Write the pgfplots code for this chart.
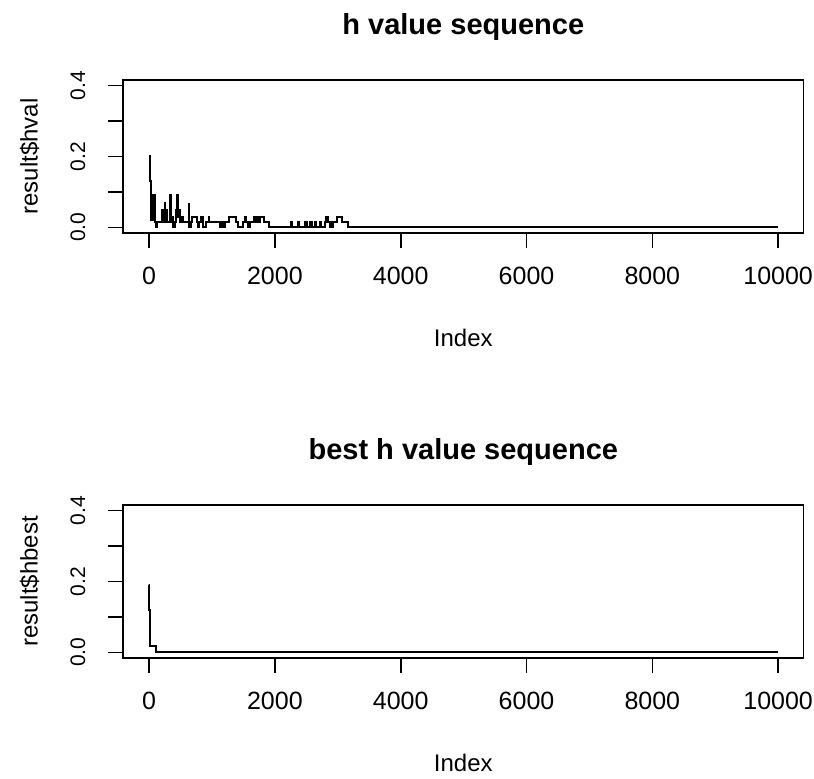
\documentclass[border=0pt]{standalone}
\usepackage{pgfplots}
\pgfplotsset{compat=1.18}
\usepackage{fontspec}
\setmainfont{Liberation Sans}
\begin{document}
\begin{tikzpicture}
\pgfplotsset{
  rplot/.style={
    scale only axis, width=340pt, height=76.5pt,
    xmin=-410, xmax=10400, ymin=-0.016, ymax=0.416,
    axis line style={line width=0.8pt},
    tick style={line width=0.8pt, black},
    tick align=outside, major tick length=7.5pt,
    xtick pos=bottom, ytick pos=left,
    xtick={0,2000,4000,6000,8000,10000},
    ytick={0,0.1,0.2,0.3,0.4},
    yticklabels={0.0,,0.2,,0.4},
    scaled x ticks=false,
    /pgf/number format/assume math mode=true,
    /pgf/number format/1000 sep={},
    xticklabel shift=6pt,
    yticklabel shift=8pt,
    xticklabel style={font=\fontsize{12.5}{14}\selectfont},
    yticklabel style={rotate=90, anchor=south, font=\fontsize{10.5}{12}\selectfont},
    title style={font=\bfseries\fontsize{14.5}{17}\selectfont,
      at={(axis description cs:0.5,1.222)}, anchor=base},
    xlabel style={font=\fontsize{12}{14}\selectfont,
      at={(axis description cs:0.5,-0.745)}, anchor=base},
    ylabel style={font=\fontsize{12}{14}\selectfont,
      at={(axis description cs:-0.138,0.5)}, anchor=center},
    xlabel={Index},
  }
}
\useasboundingbox (-61.65pt,40pt) rectangle (345.35pt,-349.5pt);

% h value sequence
\begin{axis}[rplot, at={(0,0)}, anchor=north west,
  title={h value sequence}, ylabel={result\$hval}]
\addplot[const plot, line width=1pt, black] coordinates {
(0,0.20) (8,0.19) (16,0.13) (24,0.095) (28,0.02) (32,0.09) (36,0.02)
(40,0.09) (44,0.03) (48,0.09) (52,0.02) (56,0.08) (60,0.02) (64,0.09)
(68,0.02) (72,0.06) (76,0.02) (80,0.09) (84,0.03) (88,0.07) (92,0.02)
(96,0.09) (100,0.016) (110,0.0) (130,0.016)
(210,0.05) (220,0.016) (250,0.07) (260,0.016) (270,0.05) (280,0.016)
(330,0.09) (345,0.016) (360,0.03) (380,0.0) (410,0.016) (420,0.05)
(428,0.03) (436,0.05) (444,0.03) (450,0.09) (460,0.05) (468,0.03)
(476,0.05) (484,0.03) (490,0.016) (520,0.03)
(540,0.016) (630,0.065) (640,0.0) (670,0.016) (690,0.03) (760,0.016)
(780,0.0) (800,0.016) (830,0.03) (850,0.0) (900,0.016) (950,0.03)
(960,0.016) (1120,0.0) (1150,0.016) (1170,0.0) (1200,0.016) (1270,0.03)
(1380,0.016) (1420,0.0) (1490,0.016) (1530,0.03) (1545,0.016) (1570,0.0)
(1600,0.016) (1660,0.03) (1700,0.016) (1720,0.03) (1750,0.016) (1770,0.03)
(1830,0.016) (1910,0.0) (2250,0.016) (2275,0.0) (2370,0.016) (2385,0.0)
(2480,0.016) (2510,0.0) (2560,0.016) (2590,0.0) (2630,0.016) (2660,0.0)
(2720,0.016) (2740,0.0) (2790,0.016) (2820,0.03) (2845,0.016) (2870,0.0)
(2885,0.016) (2900,0.0) (2930,0.016) (2980,0.03) (3060,0.016) (3170,0.0)
(10000,0.0)
};
\end{axis}

% best h value sequence
\begin{axis}[rplot, at={(0,-212.5pt)}, anchor=north west,
  title={best h value sequence}, ylabel={result\$hbest}]
\addplot[const plot, line width=1pt, black] coordinates {
(0,0.19) (3,0.12) (22,0.017) (110,0.0) (10000,0.0)
};
\end{axis}
\end{tikzpicture}
\end{document}
